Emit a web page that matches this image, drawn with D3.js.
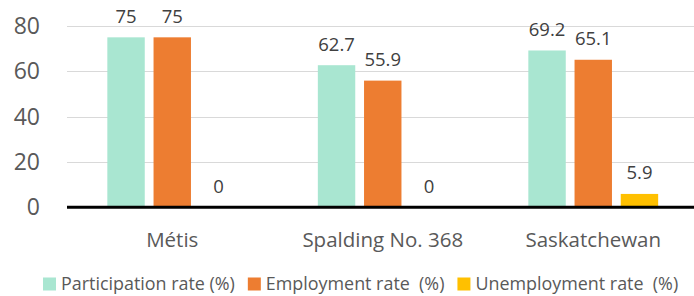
<!DOCTYPE html>
<html>
<head>
<meta charset="utf-8">
<title>Labour force rates</title>
<script src="https://d3js.org/d3.v7.min.js"></script>
<style>
  body { margin: 0; background: #fff; }
  svg { display: block; font-family: "Open Sans", sans-serif; }
  .grid line { stroke: #d9d9d9; stroke-width: 1; }
  .ytick { fill: #595959; font-size: 23px; }
  .xcat { fill: #595959; font-size: 20.5px; }
  .val { fill: #404040; font-size: 18.5px; }
  .leg text { fill: #595959; font-size: 17.9px; white-space: pre; }
</style>
</head>
<body>
<svg width="694" height="296"></svg>
<script>
// data
var categories = ["Métis", "Spalding No. 368", "Saskatchewan"];
var seriesNames = ["Participation rate (%)", "Employment rate  (%)", "Unemployment rate  (%)"];
var participation = [75, 62.7, 69.2];
var employment = [75, 55.9, 65.1];
var unemployment = [0, 0, 5.9];
var yTicks = [0, 20, 40, 60, 80];
var colors = ["#a9e6d1", "#ed7d31", "#ffc000"];

var svg = d3.select("svg");
var values = [participation, employment, unemployment];

var y = d3.scaleLinear().domain([0, 80]).range([207.3, 26]);
var x0 = d3.scaleBand().domain(categories).range([67, 698.5]);
var x1 = d3.scaleBand().domain(d3.range(seriesNames.length))
  .range([0, x0.bandwidth()])
  .paddingInner(0.19).paddingOuter(0.873);

// gridlines
svg.append("g").attr("class", "grid")
  .selectAll("line")
  .data(yTicks.filter(function(d) { return d > 0; }))
  .enter().append("line")
    .attr("x1", 67).attr("x2", 694)
    .attr("y1", function(d) { return Math.round(y(d)) + 0.5; })
    .attr("y2", function(d) { return Math.round(y(d)) + 0.5; });

// y labels
svg.append("g").selectAll("text")
  .data(yTicks)
  .enter().append("text")
    .attr("class", "ytick")
    .attr("x", 40)
    .attr("y", function(d) { return y(d); })
    .attr("dy", "0.35em")
    .attr("text-anchor", "end")
    .text(function(d) { return d; });

// bars
var groups = svg.append("g").selectAll("g")
  .data(categories)
  .enter().append("g")
    .attr("transform", function(d) { return "translate(" + x0(d) + ",0)"; });

groups.each(function(cat, ci) {
  var g = d3.select(this);
  var rows = values.map(function(arr, si) { return { s: si, v: arr[ci] }; });
  g.selectAll("rect")
    .data(rows)
    .enter().append("rect")
      .attr("x", function(d) { return x1(d.s); })
      .attr("width", x1.bandwidth())
      .attr("y", function(d) { return y(d.v); })
      .attr("height", function(d) { return y(0) - y(d.v); })
      .attr("fill", function(d) { return colors[d.s]; });
  g.selectAll("text")
    .data(rows)
    .enter().append("text")
      .attr("class", "val")
      .attr("x", function(d) { return x1(d.s) + x1.bandwidth() / 2; })
      .attr("y", function(d) { return y(d.v) - 14.7; })
      .attr("text-anchor", "middle")
      .text(function(d) { return d.v; });
});

// baseline
svg.append("line")
  .attr("x1", 67).attr("x2", 694)
  .attr("y1", y(0)).attr("y2", y(0))
  .attr("stroke", "#000").attr("stroke-width", 3);

// category labels
svg.append("g").selectAll("text")
  .data(categories)
  .enter().append("text")
    .attr("class", "xcat")
    .attr("x", function(d) { return x0(d) + x0.bandwidth() / 2; })
    .attr("y", 246.7)
    .attr("text-anchor", "middle")
    .text(function(d) { return d; });

// legend
var leg = svg.append("g").attr("class", "leg");
var lx = 43;
seriesNames.forEach(function(name, i) {
  leg.append("rect")
    .attr("x", lx).attr("y", 277.5)
    .attr("width", 13).attr("height", 13)
    .attr("fill", colors[i]);
  var t = leg.append("text")
    .attr("x", lx + 18)
    .attr("y", 290)
    .text(name);
  lx += 18 + t.node().getComputedTextLength() + 13;
});
</script>
</body>
</html>
